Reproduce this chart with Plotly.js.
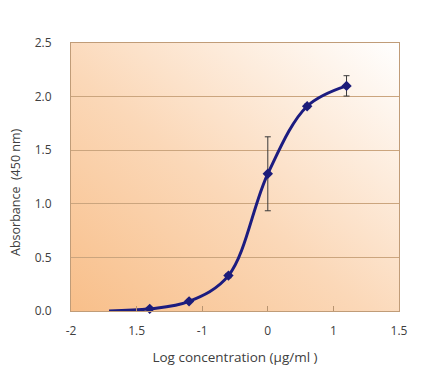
<!DOCTYPE html>
<html>
<head>
<meta charset="utf-8">
<script src="https://cdn.plot.ly/plotly-3.0.1.min.js"></script>
<style>
html,body{margin:0;padding:0;background:#fff;}
#chart{width:439px;height:379px;}
</style>
</head>
<body>
<div id="chart"></div>
<script>
// Data
var tickVals = [-3, -2, -1, 0, 1, 2];
var tickLabels = ["-2", "1.5", "-1", "0", "1", "1.5"];
var logConc = [-1.8, -1.2, -0.6, 0, 0.6, 1.2];
var absorbance = [0.02, 0.09, 0.33, 1.28, 1.91, 2.10];
var errors = [0.01, 0.01, 0.02, 0.345, 0.02, 0.095];
var curveX = [-2.42, -1.8, -1.2, -0.6, 0, 0.6, 1.2];
var curveY = [0.0, 0.02, 0.09, 0.33, 1.28, 1.91, 2.10];

var svg = "<svg xmlns='http://www.w3.org/2000/svg' width='327' height='268' preserveAspectRatio='none' viewBox='0 0 327 268'>" +
  "<defs><linearGradient id='g' x1='0' y1='1' x2='1' y2='0'>" +
  "<stop offset='0' stop-color='#F8BF8A'/><stop offset='0.45' stop-color='#FBD8B8'/><stop offset='1' stop-color='#FFFFFF'/>" +
  "</linearGradient></defs><rect x='0' y='0' width='327' height='268' fill='url(#g)'/></svg>";
var bgSrc = "data:image/svg+xml;charset=utf-8," + encodeURIComponent(svg);

var curve = {
  x: curveX, y: curveY, type: 'scatter', mode: 'lines',
  line: {color: '#1C1C80', width: 3, shape: 'spline', smoothing: 1},
  hoverinfo: 'skip', showlegend: false, cliponaxis: false
};
var pts = {
  x: logConc, y: absorbance, type: 'scatter', mode: 'markers',
  marker: {symbol: 'diamond', size: 8, color: '#1C1C7A'},
  error_y: {type: 'data', array: errors, visible: true, color: '#3a3a3a', thickness: 1, width: 3},
  showlegend: false, cliponaxis: false
};

var fam = 'Open Sans, Liberation Sans, sans-serif';
var axisFont = {family: fam, size: 12, color: '#404040'};
var layout = {
  width: 439, height: 379,
  margin: {l: 71, r: 40, t: 43, b: 68},
  paper_bgcolor: '#ffffff',
  plot_bgcolor: 'rgba(0,0,0,0)',
  images: [{source: bgSrc, xref: 'paper', yref: 'paper', x: 0, y: 1, sizex: 1, sizey: 1,
            sizing: 'stretch', xanchor: 'left', yanchor: 'top', layer: 'below'}],
  xaxis: {
    range: [-3, 2], tickmode: 'array', tickvals: tickVals, ticktext: tickLabels,
    ticks: 'inside', ticklen: 5, tickcolor: '#B89470', tickwidth: 1,
    showgrid: false, zeroline: false,
    showline: true, linecolor: '#C09C78', linewidth: 1, mirror: true,
    tickfont: axisFont, ticklabelstandoff: 9,
    title: {text: 'Log concentration (μg/ml )', font: {family: fam, size: 13.5, color: '#404040'}, standoff: 14}
  },
  yaxis: {
    range: [0, 2.5], dtick: 0.5, tickformat: '.1f',
    ticks: '', showgrid: true, gridcolor: '#CBA57E', gridwidth: 1, zeroline: false,
    showline: true, linecolor: '#C09C78', linewidth: 1, mirror: true,
    tickfont: axisFont, ticklabelstandoff: 16
  },
  annotations: [{
    text: 'Absorbance  (450 nm)', textangle: -90, showarrow: false,
    xref: 'paper', yref: 'paper', x: 0, y: 0.5, xanchor: 'center', yanchor: 'middle',
    xshift: -56, yshift: -15,
    font: {family: fam, size: 12.5, color: '#404040'}
  }]
};
Plotly.newPlot('chart', [curve, pts], layout, {displayModeBar: false, staticPlot: true});
</script>
</body>
</html>
